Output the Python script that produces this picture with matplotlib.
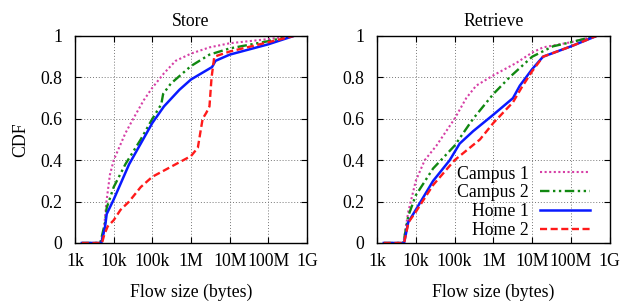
import numpy as np
import matplotlib
matplotlib.use('Agg')
import matplotlib.pyplot as plt
from matplotlib.ticker import FixedLocator, NullLocator

plt.rcParams['font.family'] = ['Liberation Serif', 'DejaVu Serif']
plt.rcParams['font.size'] = 12.8

# ---- data (flow size in bytes, CDF) ----
store_c1_x = [1.5e3, 4.5e3, 5.5e3, 6.5e3, 8e3, 1e4, 2e4, 3.2e4, 6e4, 1e5, 2e5, 4e5, 1e6, 3e6, 1e7, 1e8, 4e8]
store_c1_y = [0, 0, 0.05, 0.2, 0.33, 0.4, 0.53, 0.6, 0.69, 0.75, 0.82, 0.88, 0.915, 0.945, 0.965, 0.985, 1]
store_c2_x = [1.5e3, 4.5e3, 6e3, 6.6e3, 1e4, 2e4, 5e4, 1e5, 1.7e5, 1.9e5, 3e5, 1e6, 3e6, 1e7, 1e8, 4e8]
store_c2_y = [0, 0, 0.1, 0.17, 0.27, 0.38, 0.5, 0.6, 0.67, 0.72, 0.77, 0.855, 0.91, 0.94, 0.975, 1]
store_h1_x = [1.5e3, 4.8e3, 6e3, 6.6e3, 1e4, 2.5e4, 5e4, 1e5, 2e5, 5e5, 1e6, 3.5e6, 4.3e6, 1e7, 1e8, 4.5e8]
store_h1_y = [0, 0, 0.08, 0.14, 0.21, 0.38, 0.48, 0.58, 0.66, 0.74, 0.79, 0.85, 0.88, 0.91, 0.96, 1]
store_h2_x = [1.5e3, 5e3, 5.7e3, 7e3, 1e4, 1.5e4, 2.5e4, 5e4, 1e5, 2e5, 5e5, 1e6, 1.5e6, 1.8e6, 2e6,
              2.5e6, 3e6, 3.4e6, 4e6, 1e7, 1e8, 4.5e8]
store_h2_y = [0, 0, 0.04, 0.08, 0.11, 0.16, 0.2, 0.27, 0.32, 0.35, 0.39, 0.42, 0.46, 0.55, 0.6,
              0.63, 0.66, 0.8, 0.9, 0.925, 0.97, 1]

retr_c1_x = [1.5e3, 4.8e3, 6.4e3, 1e4, 1.7e4, 3.4e4, 1e5, 2e5, 3.6e5, 1e6, 3.9e6, 1e7, 1.9e7, 1e8, 4.5e8]
retr_c1_y = [0, 0, 0.15, 0.3, 0.4, 0.47, 0.6, 0.7, 0.76, 0.81, 0.87, 0.92, 0.945, 0.97, 1]
retr_c2_x = [1.5e3, 4.8e3, 6.4e3, 1e4, 2.8e4, 1e5, 3e5, 1e6, 2.6e6, 1e7, 3.4e7, 1e8, 4.4e8]
retr_c2_y = [0, 0, 0.13, 0.23, 0.36, 0.47, 0.6, 0.72, 0.8, 0.9, 0.95, 0.97, 1]
retr_h1_x = [1.5e3, 5e3, 6.4e3, 1e4, 2.8e4, 7.5e4, 1.35e5, 3e5, 1e6, 3.2e6, 4.8e6, 1e7, 1.9e7, 1e8, 4.5e8]
retr_h1_y = [0, 0, 0.1, 0.16, 0.3, 0.4, 0.48, 0.54, 0.62, 0.7, 0.76, 0.84, 0.9, 0.95, 1]
retr_h2_x = [1.5e3, 5e3, 6.5e3, 1e4, 2.8e4, 1e5, 4.5e5, 1e6, 3.2e6, 5.3e6, 1e7, 1.9e7, 1e8, 4.5e8]
retr_h2_y = [0, 0, 0.1, 0.15, 0.28, 0.4, 0.5, 0.58, 0.68, 0.75, 0.83, 0.9, 0.95, 1]

labels = ['Campus 1', 'Campus 2', 'Home 1', 'Home 2']
colors = ['#d63fa6', '#118811', '#0a1aff', '#ff1a1a']
styles = [(0, (1, 1.2)), (0, (4, 1.5, 1, 1.5, 1, 1.5)), '-', (0, (3, 1.5))]
widths = [1.5, 1.7, 1.8, 1.7]

xticks = [1e3, 1e4, 1e5, 1e6, 1e7, 1e8, 1e9]
xticklabels = ['1k', '10k', '100k', '1M', '10M', '100M', '1G']
yticks = [0, 0.2, 0.4, 0.6, 0.8, 1]
yticklabels = ['0', '0.2', '0.4', '0.6', '0.8', '1']

fig = plt.figure(figsize=(6.21, 3.02), dpi=100)
ax1 = fig.add_axes([0.1208, 0.1954, 0.3736, 0.6854])
ax2 = fig.add_axes([0.607, 0.1954, 0.375, 0.6854])

panels = [
    (ax1, 'Store', [(store_c1_x, store_c1_y), (store_c2_x, store_c2_y),
                    (store_h1_x, store_h1_y), (store_h2_x, store_h2_y)]),
    (ax2, 'Retrieve', [(retr_c1_x, retr_c1_y), (retr_c2_x, retr_c2_y),
                       (retr_h1_x, retr_h1_y), (retr_h2_x, retr_h2_y)]),
]

for ax, title, series in panels:
    for (x, y), lab, c, ls, lw in zip(series, labels, colors, styles, widths):
        ax.plot(x, y, color=c, linestyle=ls, linewidth=lw, label=lab)
    ax.set_xscale('log')
    ax.set_xlim(1e3, 1e9)
    ax.set_ylim(0, 1)
    ax.xaxis.set_major_locator(FixedLocator(xticks))
    ax.xaxis.set_minor_locator(NullLocator())
    ax.set_xticklabels(xticklabels)
    ax.set_yticks(yticks)
    ax.set_yticklabels(yticklabels)
    ax.tick_params(direction='in', length=4, width=0.8, top=True, right=True)
    ax.tick_params(axis='x', pad=7)
    ax.tick_params(axis='y', pad=9)
    ax.grid(True, color='#777777', linestyle=(0, (1, 2)), linewidth=0.7)
    for s in ax.spines.values():
        s.set_linewidth(1.0)
    ax.set_title(title, fontsize=12.8, pad=7)
    ax.set_xlabel('Flow size (bytes)', labelpad=10)

ax1.set_ylabel('CDF', labelpad=8)

leg = ax2.legend(loc='lower right', bbox_to_anchor=(0.914, 0.02), markerfirst=False, frameon=False,
                 handlelength=2.8, labelspacing=0.1, handletextpad=0.65, borderaxespad=0,
                 borderpad=0)

fig.savefig('out.png', dpi=100)
